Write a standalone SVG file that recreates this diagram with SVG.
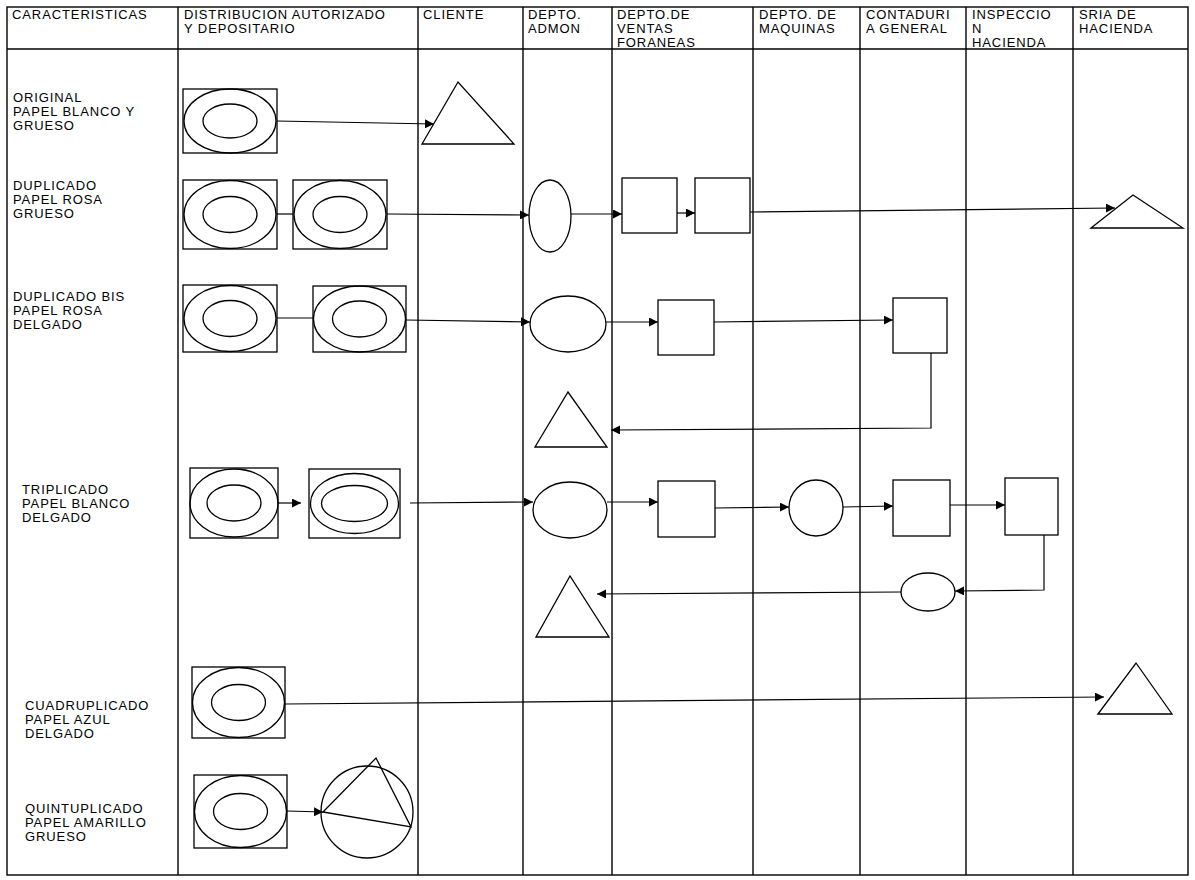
<svg xmlns="http://www.w3.org/2000/svg" width="1195" height="880" viewBox="0 0 1195 880">
<defs>
<marker id="ah" viewBox="0 0 10 10" refX="10" refY="5" markerWidth="9" markerHeight="9" markerUnits="userSpaceOnUse" orient="auto"><path d="M0,0 L10,5 L0,10 z" fill="#000"/></marker>
<style>
.g{stroke:#000;stroke-width:1.4;fill:none}
.s{stroke:#000;stroke-width:1.3;fill:#fff}
.n{stroke:#000;stroke-width:1.3;fill:none}
.c{stroke:#000;stroke-width:1.2;fill:none}
.a{stroke:#000;stroke-width:1.2;fill:none;marker-end:url(#ah)}
text{font-family:"Liberation Sans",Arial,sans-serif;font-size:13px;letter-spacing:0.9px;fill:#000}
</style>
</defs>
<rect width="1195" height="880" fill="#fff"/>
<g id="grid" class="g">
<rect x="7" y="7" width="1181" height="868"/>
<line x1="7" y1="49" x2="1188" y2="49"/>
<line x1="178" y1="7" x2="178" y2="875"/>
<line x1="418" y1="7" x2="418" y2="875"/>
<line x1="523" y1="7" x2="523" y2="875"/>
<line x1="612" y1="7" x2="612" y2="875"/>
<line x1="753" y1="7" x2="753" y2="875"/>
<line x1="860" y1="7" x2="860" y2="875"/>
<line x1="966" y1="7" x2="966" y2="875"/>
<line x1="1073" y1="7" x2="1073" y2="875"/>
</g>
<g id="header">
<text x="12" y="18.5">CARACTERISTICAS</text>
<text x="184" y="18.5">DISTRIBUCION AUTORIZADO</text>
<text x="184" y="32.5">Y DEPOSITARIO</text>
<text x="423" y="18.5">CLIENTE</text>
<text x="528" y="18.5">DEPTO.</text>
<text x="528" y="32.5">ADMON</text>
<text x="617" y="18.5">DEPTO.DE</text>
<text x="617" y="32.5">VENTAS</text>
<text x="617" y="46.5">FORANEAS</text>
<text x="759" y="18.5">DEPTO. DE</text>
<text x="759" y="32.5">MAQUINAS</text>
<text x="866" y="18.5">CONTADURI</text>
<text x="866" y="32.5">A GENERAL</text>
<text x="972" y="18.5">INSPECCIO</text>
<text x="972" y="32.5">N</text>
<text x="972" y="46.5">HACIENDA</text>
<text x="1079" y="18.5">SRIA  DE</text>
<text x="1079" y="32.5">HACIENDA</text>
</g>
<g id="labels">
<text x="13" y="102">ORIGINAL</text>
<text x="13" y="116">PAPEL BLANCO Y</text>
<text x="13" y="130">GRUESO</text>
<text x="13" y="190">DUPLICADO</text>
<text x="13" y="204">PAPEL ROSA</text>
<text x="13" y="218">GRUESO</text>
<text x="13" y="301">DUPLICADO BIS</text>
<text x="13" y="315">PAPEL ROSA</text>
<text x="13" y="329">DELGADO</text>
<text x="22" y="494">TRIPLICADO</text>
<text x="22" y="508">PAPEL BLANCO</text>
<text x="22" y="522">DELGADO</text>
<text x="25" y="710">CUADRUPLICADO</text>
<text x="25" y="724">PAPEL AZUL</text>
<text x="25" y="738">DELGADO</text>
<text x="25" y="813">QUINTUPLICADO</text>
<text x="25" y="827">PAPEL AMARILLO</text>
<text x="25" y="841">GRUESO</text>
</g>
<g id="connectors">
<path class="a" d="M277,121 L434,124"/>
<path class="c" d="M277,214 L293,214"/>
<path class="a" d="M387,214 L529,215"/>
<path class="a" d="M571,214 L622,214"/>
<path class="a" d="M677,213 L695,213"/>
<path class="a" d="M750,212 L1115,208"/>
<path class="c" d="M277,318 L313,318"/>
<path class="a" d="M406,320 L530,322"/>
<path class="a" d="M606,322 L658,322"/>
<path class="a" d="M714,322 L893,320"/>
<path class="a" d="M931,353 L931,428 L611,430"/>
<path class="a" d="M278,503 L301,503"/>
<path class="a" d="M410,503 L533,502"/>
<path class="a" d="M607,502 L658,502"/>
<path class="a" d="M715,508 L789,507"/>
<path class="a" d="M843,507 L893,506"/>
<path class="a" d="M950,505 L1005,505"/>
<path class="a" d="M1044,535 L1044,590 L955,591"/>
<path class="a" d="M901,592 L597,594"/>
<path class="a" d="M285,704 L1104,697"/>
<path class="a" d="M287,811 L323,812"/>
</g>
<g id="n_original_doc"><rect class="s" x="183" y="89" width="94" height="64"/><ellipse class="n" cx="230" cy="121" rx="46" ry="32"/><ellipse class="n" cx="230" cy="121" rx="27" ry="17"/></g>
<g id="n_original_cliente"><polygon class="n" points="422,144 458,82 514,144"/></g>
<g id="n_dup_doc1"><rect class="s" x="183" y="180" width="94" height="69"/><ellipse class="n" cx="230" cy="214.5" rx="46" ry="34"/><ellipse class="n" cx="230" cy="214.5" rx="27" ry="18"/></g>
<g id="n_dup_doc2"><rect class="s" x="293" y="180" width="94" height="69"/><ellipse class="n" cx="340" cy="214.5" rx="46" ry="34"/><ellipse class="n" cx="340" cy="214.5" rx="27" ry="18"/></g>
<g id="n_dup_admon"><ellipse class="n" cx="550" cy="216" rx="21" ry="36"/></g>
<g id="n_dup_ventas1"><rect class="n" x="622" y="178" width="55" height="55"/></g>
<g id="n_dup_ventas2"><rect class="n" x="695" y="178" width="55" height="55"/></g>
<g id="n_dup_sria"><polygon class="n" points="1091,228 1133,195 1183,228"/></g>
<g id="n_bis_doc1"><rect class="s" x="183" y="285" width="94" height="67"/><ellipse class="n" cx="230" cy="318.5" rx="46" ry="33"/><ellipse class="n" cx="230" cy="318.5" rx="27" ry="18"/></g>
<g id="n_bis_doc2"><rect class="s" x="313" y="286" width="93" height="66"/><ellipse class="n" cx="359.5" cy="319" rx="46" ry="33"/><ellipse class="n" cx="359.5" cy="319" rx="27" ry="18"/></g>
<g id="n_bis_admon"><ellipse class="n" cx="568" cy="324" rx="38" ry="28"/></g>
<g id="n_bis_ventas"><rect class="n" x="658" y="300" width="56" height="55"/></g>
<g id="n_bis_cont"><rect class="n" x="893" y="298" width="54" height="55"/></g>
<g id="n_bis_admon_tri"><polygon class="n" points="535,447 568,392 607,447"/></g>
<g id="n_tri_doc1"><rect class="s" x="190" y="468" width="88" height="70"/><ellipse class="n" cx="234" cy="503" rx="44" ry="34"/><ellipse class="n" cx="234" cy="503" rx="27" ry="18"/></g>
<g id="n_tri_doc2"><rect class="s" x="309" y="469" width="91" height="69"/><ellipse class="n" cx="354.5" cy="503.5" rx="44" ry="30"/><ellipse class="n" cx="354.5" cy="503.5" rx="33" ry="18"/></g>
<g id="n_tri_admon"><ellipse class="n" cx="570" cy="510" rx="37" ry="28"/></g>
<g id="n_tri_ventas"><rect class="n" x="658" y="481" width="57" height="56"/></g>
<g id="n_tri_maq"><ellipse class="n" cx="816" cy="508" rx="27" ry="28"/></g>
<g id="n_tri_cont"><rect class="n" x="893" y="480" width="57" height="56"/></g>
<g id="n_tri_insp"><rect class="n" x="1005" y="478" width="53" height="57"/></g>
<g id="n_tri_cont_ell"><ellipse class="n" cx="928" cy="592" rx="27" ry="19"/></g>
<g id="n_tri_admon_tri"><polygon class="n" points="536,637 570,576 609,637"/></g>
<g id="n_cuad_doc"><rect class="s" x="192" y="667" width="93" height="71"/><ellipse class="n" cx="238.5" cy="702.5" rx="46" ry="35"/><ellipse class="n" cx="238.5" cy="702.5" rx="27" ry="18"/></g>
<g id="n_cuad_sria"><polygon class="n" points="1098,714 1136,663 1172,714"/></g>
<g id="n_quin_doc"><rect class="s" x="194" y="775" width="93" height="73"/><ellipse class="n" cx="240.5" cy="811.5" rx="46" ry="36"/><ellipse class="n" cx="240.5" cy="811.5" rx="27" ry="18"/></g>
<g id="n_quin_circle"><circle class="n" cx="367" cy="812" r="46"/><polygon class="n" points="323,812 376,758 411,827"/></g>
</svg>
